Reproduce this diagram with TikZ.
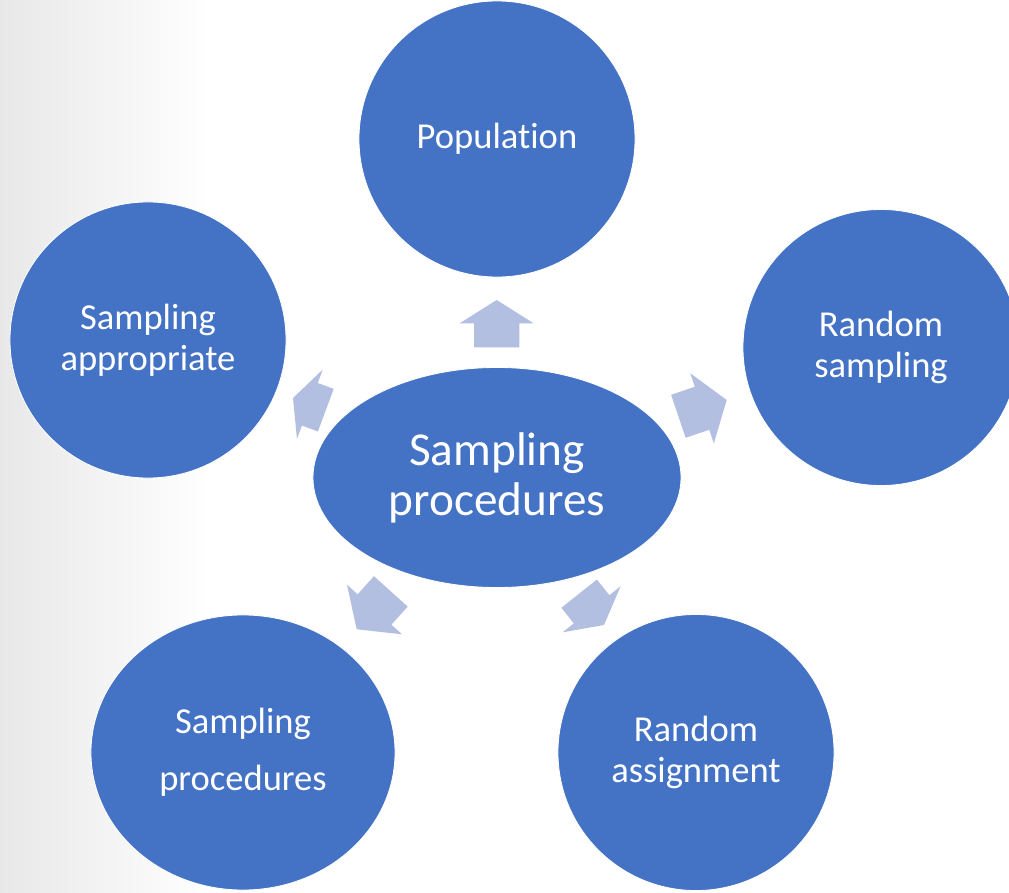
\documentclass[tikz,border=0pt]{standalone}
\usepackage{fontspec}
\setmainfont{Carlito}[Ligatures=NoCommon]
\usetikzlibrary{shapes.geometric}
\definecolor{circblue}{RGB}{68,114,196}
\definecolor{arrblue}{RGB}{178,191,225}
\tikzset{
	topic/.style = {circle, fill=circblue, draw=white, line width=0.6pt,
		text=white, align=center, inner sep=0pt, minimum size=6.9cm,
		font=\fontsize{26}{29.2}\selectfont},
	wide/.style  = {ellipse, minimum width=7.6cm, minimum height=6.875cm},
	hub/.style   = {ellipse, fill=circblue, draw=white, line width=0.6pt,
		text=white, align=center, inner sep=0pt, minimum width=9.2cm,
		minimum height=5.5cm, font=\fontsize{33.6}{35.6}\selectfont},
	spoke/.style = {fill=arrblue} % block arrows
}
% block arrow: tip, angle, length, head length
\newcommand{\blockarrow}[4]{%
	\fill[spoke, shift={#1}, rotate=#2] (0,0) -- (-#4,37) -- (-#4,22.7)
	-- (-#3,22.7) -- (-#3,-22.7) -- (-#4,-22.7) -- (-#4,-37) -- cycle;}

\begin{document}
\begin{tikzpicture}[x=0.025cm, y=-0.025cm]
	\useasboundingbox (0,0) rectangle (1009,893);
	\clip (0,0) rectangle (1009,893);
	\fill[left color=gray!18, right color=white] (0,0) rectangle (210,893);
	
	\draw
	node at (497,477.5)[hub] (hub) {Sampling\\procedures}
	node at (497,139)[topic] (pop) {Population}
	node at (148,340)[topic] (appr) {Sampling\\appropriate}
	node at (881,347.5)[topic] (rsamp) {Random\\sampling}
	node at (243,752.5)[topic, wide] (proc) {Sampling\\[0.4cm]procedures}
	node at (696,752.5)[topic] (rassign) {Random\\assignment}
	;
	
	\blockarrow{(496.7,300)}{90}{47.3}{23.3}
	\blockarrow{(293,398)}{159.6}{35}{18}
	\blockarrow{(726.7,400)}{18.6}{51}{26}
	\blockarrow{(356.7,629.3)}{228}{51}{26.6}
	\blockarrow{(604,625)}{308.4}{40}{20}
\end{tikzpicture}
\end{document}
